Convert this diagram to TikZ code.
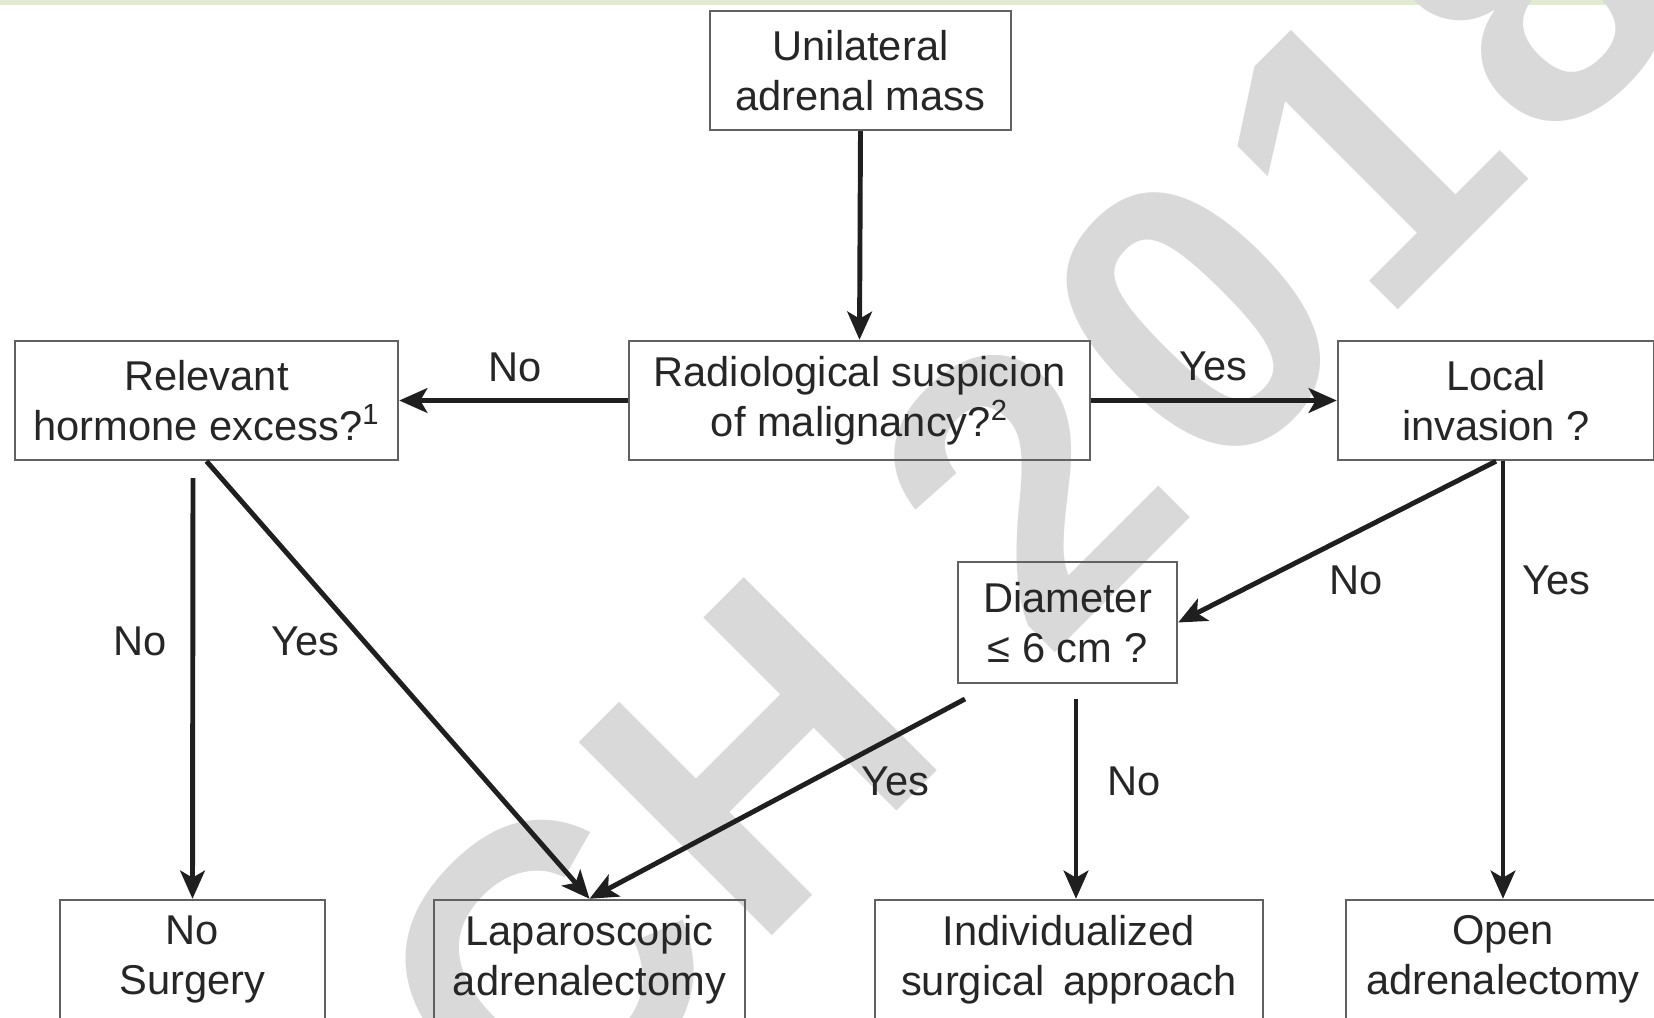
\documentclass[tikz,border=0pt]{standalone}
\usepackage{fontspec}
\setmainfont{Liberation Sans}
\usetikzlibrary{arrows.meta}

\begin{document}
\begin{tikzpicture}[x=0.02cm, y=-0.02cm,
  box/.style={draw=black!62, line width=1.4pt, align=center, inner sep=0pt,
    minimum height=2.38cm, font=\fontsize{23.7}{28.5}\selectfont, text=black!85},
  lbl/.style={font=\fontsize{23.7}{28}\selectfont, text=black!85},
  arr/.style={-{Stealth[length=16pt,width=14pt,inset=4pt]}, line width=2.8pt, draw=black!88}]
\useasboundingbox (0,0) rectangle (1654,1018);
\clip (0,0) rectangle (1654,1018);

% Strip and watermark
\fill[fill={rgb,255:red,226;green,235;blue,210}] (0,0) rectangle (1654,5);
\node[anchor=base west, rotate=45, inner sep=0pt, text={rgb,255:red,217;green,217;blue,217},
  font=\bfseries\fontsize{226}{226}\selectfont\addfontfeature{LetterSpace=4}] (mark) at (540,1168) {CH 2018};

% Question boxes
\node[box, minimum width=6.02cm] (top) at (860.5,70.5) {Unilateral\\adrenal mass};
\node[box, minimum width=9.22cm] (rad) at (859.5,400.5) {Radiological suspicion\\of malignancy?\textsuperscript{2}};
\node[box, minimum width=7.66cm] (rel) at (206.5,400.5) {Relevant\\hormone excess?\textsuperscript{1}};
\node[box, minimum width=6.32cm] (loc) at (1496,400.5) {Local\\invasion ?};
\node[box, minimum width=4.38cm, minimum height=2.42cm] (dia) at (1067.5,622.5) {Diameter\\≤ 6 cm ?};

% Outcome boxes
\node[box, minimum width=5.30cm] (nos) at (192.5,959.5) {No\\Surgery};
\node[box, minimum width=6.22cm] (lap) at (589.5,959.5) {Laparoscopic\\adrenalectomy};
\node[box, minimum width=7.76cm] (ind) at (1069,959.5) {Individualized\\surgical\hspace{0.45em}approach};
\node[box, minimum width=6.28cm] (open) at (1503,959.5) {Open\\adrenalectomy};

% Free ends
\coordinate (relno) at (193,478);
\coordinate (diayes) at (965,699);
\coordinate (diano) at (1076,699);

% Connectors
\draw[arr] (top.south) -- (rad.north);
\draw[arr] (rad.west) -- (rel.east);
\draw[arr] (rad.east) -- (loc.west);
\draw[arr] (relno) -- (nos.north);
\draw[arr] (rel.south) -- (lap.north);
\draw[arr] (loc.south) -- (dia.east);
\draw[arr] (open.north |- loc.south) -- (open.north);
\draw[arr] (diayes) -- (lap.north);
\draw[arr] (diano) -- (diano |- ind.north);

% Labels
\node[lbl] (l1) at (515,367) {No};
\node[lbl] (l2) at (1213,366) {Yes};
\node[lbl] (l3) at (140,641) {No};
\node[lbl] (l4) at (305,641) {Yes};
\node[lbl] (l5) at (1356,580) {No};
\node[lbl] (l6) at (1556,580) {Yes};
\node[lbl] (l7) at (895,781) {Yes};
\node[lbl] (l8) at (1134,781) {No};
\end{tikzpicture}
\end{document}
